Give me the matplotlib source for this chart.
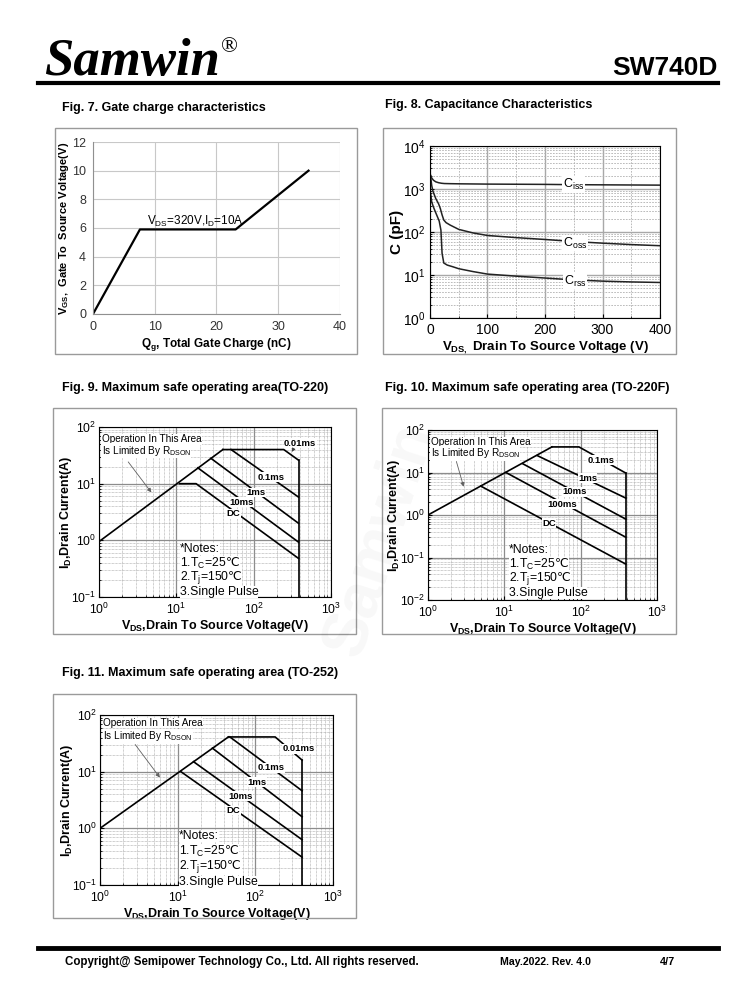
import matplotlib
matplotlib.use("Agg")
import matplotlib.pyplot as plt
from matplotlib.patches import Rectangle
from matplotlib.lines import Line2D
from matplotlib.ticker import LogLocator, MultipleLocator, NullFormatter

plt.rcParams['font.family'] = ['Liberation Sans', 'DejaVu Sans']
plt.rcParams['mathtext.default'] = 'regular'
plt.rcParams['mathtext.fontset'] = 'custom'
plt.rcParams['mathtext.rm'] = 'DejaVu Sans'
plt.rcParams['axes.unicode_minus'] = False

W, H = 738, 1000

# ---- Fig 7: gate charge ----
qg_nc = [0, 7.6, 23.1, 34.9]
vgs_v = [0, 5.9, 5.9, 10.0]

# ---- Fig 8: capacitance ----
ciss_v = [1, 3, 6, 10, 15, 20, 25, 35, 50, 100, 150, 200, 250, 300, 350, 400]
ciss_pf = [2100, 1800, 1600, 1470, 1400, 1360, 1340, 1330, 1320, 1300, 1290, 1280, 1260, 1250, 1240, 1230]
coss_v = [1, 3, 5, 10, 15, 18, 21, 24, 28, 35, 50, 75, 100, 150, 200, 250, 300, 350, 400]
coss_pf = [2000, 1200, 900, 600, 450, 350, 250, 190, 165, 145, 115, 95, 83, 74, 67, 60, 55, 51, 48]
crss_v = [1, 3, 6, 10, 16, 19, 21, 24, 30, 40, 50, 75, 100, 150, 200, 250, 300, 350, 400]
crss_pf = [800, 500, 380, 280, 180, 110, 32, 19, 17, 15.5, 14, 12, 10.5, 9.4, 8.5, 7.7, 7.2, 6.9, 6.7]

# ---- Fig 9: SOA TO-220 ----
to220_rds = ([1, 40], [0.95, 40])
to220_lines = {
    '0.01ms': ([40, 245, 380], [40, 40, 26]),
    '0.1ms': ([51, 380], [40, 5.8]),
    '1ms': ([28, 380], [28, 2.0]),
    '10ms': ([19, 380], [19, 0.93]),
    'DC': ([11, 18, 380], [10, 10, 0.48]),
}
to220_vmax = ([380, 380], [0.1, 26])

# ---- Fig 10: SOA TO-220F ----
to220f_rds = ([1, 42], [1, 40])
to220f_lines = {
    '0.1ms': ([42, 95, 390], [40, 40, 9.7]),
    '1ms': ([27, 390], [25, 2.5]),
    '10ms': ([17.5, 390], [16, 0.8]),
    '100ms': ([10.5, 390], [10, 0.3]),
    'DC': ([4.9, 390], [4.8, 0.07]),
}
to220f_vmax = ([390, 390], [0.01, 9.7])

# ---- Fig 11: SOA TO-252 ----
to252_rds = ([1, 45], [1, 41])
to252_lines = {
    '0.01ms': ([45, 180, 400], [41, 41, 16]),
    '0.1ms': ([47, 400], [41, 4.6]),
    '1ms': ([28, 400], [26, 1.6]),
    '10ms': ([16, 400], [15, 0.63]),
    'DC': ([11, 400], [10, 0.31]),
}
to252_vmax = ([400, 400], [0.1, 16])

notes_text = ['*Notes:', r'1.T$_{C}$=25$\mathrm{℃}$', r'2.T$_{j}$=150$\mathrm{℃}$', '3.Single Pulse']

fig = plt.figure(figsize=(W / 100, H / 100), dpi=100)


def px_ax(l, t, r, b):
    return fig.add_axes([l / W, 1 - b / H, (r - l) / W, (b - t) / H])


def frame(l, t, r, b):
    fig.add_artist(Rectangle((l / W, 1 - b / H), (r - l) / W, (b - t) / H,
                             transform=fig.transFigure, fill=False,
                             ec='#9a9a9a', lw=1))


def ftext(x, y, s, **kw):
    fig.text(x / W, 1 - y / H, s, **kw)


def hline(x0, x1, y, lw):
    fig.add_artist(Line2D([x0 / W, x1 / W], [1 - y / H, 1 - y / H], lw=lw,
                          color='black', transform=fig.transFigure))


# header / footer
ftext(44, 62, 'Samwin', family=['Liberation Serif', 'DejaVu Serif'],
      weight='bold', style='italic', size=38, va='center')
ftext(221, 48, '®', family=['Liberation Serif', 'DejaVu Serif'], size=16, va='center')
ftext(718, 68, 'SW740D', weight='bold', size=19, ha='right', va='center')
hline(38, 718, 83, 3)
hline(38, 718, 948, 3.5)
ftext(65, 962, 'Copyright@ Semipower Technology Co., Ltd. All rights reserved.',
      weight='bold', size=8.3, va='center')
ftext(500, 962, 'May.2022. Rev. 4.0', weight='bold', size=7.6, va='center')
ftext(660, 962, '4/7', weight='bold', size=7.8, va='center')

# titles
ftext(62, 108, 'Fig. 7. Gate charge characteristics', weight='bold', size=9, va='center')
ftext(385, 105, 'Fig. 8. Capacitance Characteristics', weight='bold', size=9, va='center')
ftext(62, 388, 'Fig. 9. Maximum safe operating area(TO-220)', weight='bold', size=9, va='center')
ftext(385, 388, 'Fig. 10. Maximum safe operating area (TO-220F)', weight='bold', size=9, va='center')
ftext(62, 673, 'Fig. 11. Maximum safe operating area (TO-252)', weight='bold', size=9, va='center')

# ---- Fig 7 ----
frame(55, 128, 357, 354)
ax = px_ax(93, 142, 340, 314)
ax.plot(qg_nc, vgs_v, color='black', lw=1.6)
ax.set_xlim(0, 40)
ax.set_ylim(0, 12)
ax.xaxis.set_major_locator(MultipleLocator(10))
ax.yaxis.set_major_locator(MultipleLocator(2))
ax.grid(True, color='#c8c8c8', lw=0.8)
ax.set_axisbelow(True)
for sp in ax.spines.values():
    sp.set_visible(False)
ax.spines['left'].set_visible(True)
ax.spines['bottom'].set_visible(True)
ax.spines['left'].set_color('#909090')
ax.spines['bottom'].set_color('#909090')
ax.tick_params(length=0, labelsize=9, colors='#333333', pad=5)
ax.text(16.5, 6.45, 'V$_{DS}$=320V,I$_{D}$=10A', ha='center', va='center', size=8.5)
ax.set_xlabel('Q$_{g}$, Total Gate Charge (nC)', weight='bold', size=8.5, labelpad=2)
ftext(64, 228, 'V$_{GS}$,  Gate To  Source Voltage(V)', weight='bold', size=8,
      rotation=90, ha='center', va='center')

# ---- Fig 8 ----
frame(383, 128, 676, 354)
ax = px_ax(430, 146, 660, 318)
ax.semilogy(ciss_v, ciss_pf, color='#222222', lw=1.1)
ax.semilogy(coss_v, coss_pf, color='#222222', lw=1.1)
ax.semilogy(crss_v, crss_pf, color='#222222', lw=1.1)
ax.set_xlim(0, 400)
ax.set_ylim(1, 1e4)
ax.xaxis.set_major_locator(MultipleLocator(100))
ax.xaxis.set_minor_locator(MultipleLocator(50))
ax.yaxis.set_major_locator(LogLocator(base=10, numticks=10))
ax.yaxis.set_minor_locator(LogLocator(base=10, subs=range(2, 10), numticks=20))
ax.yaxis.set_minor_formatter(NullFormatter())
ax.grid(True, which='major', color='#a8a8a8', lw=1.0)
ax.grid(True, which='minor', color='#b0b0b0', lw=0.6, ls=(0, (2, 1.5)))
ax.tick_params(which='both', direction='in', labelsize=10, length=3)
ax.tick_params(which='minor', length=1.5)
for lab, vv, cc in [('C$_{iss}$', 250, 1260), ('C$_{oss}$', 252, 55), ('C$_{rss}$', 252, 7.2)]:
    ax.text(vv, cc, lab, ha='center', va='center', size=9,
            bbox=dict(fc='white', ec='none', pad=0.5))
ax.set_xlabel('V$_{DS,}$ Drain To Source Voltage (V)', weight='bold', size=9.5, labelpad=2)
ftext(397, 232, 'C (pF)', weight='bold', size=11, rotation=90, ha='center', va='center')


def soa_axes(l, t, r, b, ylo, ylab_x):
    a = px_ax(l, t, r, b)
    a.set_xscale('log')
    a.set_yscale('log')
    a.set_xlim(1, 1000)
    a.set_ylim(ylo, 100)
    for axis in (a.xaxis, a.yaxis):
        axis.set_major_locator(LogLocator(base=10, numticks=10))
        axis.set_minor_locator(LogLocator(base=10, subs=range(2, 10), numticks=20))
        axis.set_minor_formatter(NullFormatter())
    a.grid(True, which='major', color='#8c8c8c', lw=0.9)
    a.grid(True, which='minor', color='#a0a0a0', lw=0.5, ls=(0, (1, 1)))
    a.tick_params(which='both', direction='in', labelsize=8.8, length=3)
    a.tick_params(axis='y', pad=2)
    a.tick_params(which='minor', length=1.5)
    a.set_xlabel('V$_{DS}$,Drain To Source Voltage(V)', weight='bold', size=9, labelpad=1)
    ftext(ylab_x, (t + b) / 2, 'I$_{D}$,Drain Current(A)', weight='bold', size=9,
          rotation=90, ha='center', va='center')
    return a


def soa_draw(a, rds, lines, vmax, label_pos, op_pos, arrow, notes_pos, note_step):
    a.plot(rds[0], rds[1], color='black', lw=1.2)
    for name, (vv, ii) in lines.items():
        a.plot(vv, ii, color='black', lw=1.2)
    a.plot(vmax[0], vmax[1], color='black', lw=1.2)
    for name, (x, y) in label_pos.items():
        a.text(x, y, name, ha='center', va='center', size=6.8, weight='bold',
               bbox=dict(fc='white', ec='none', pad=0.3))
    a.text(op_pos[0], op_pos[1], 'Operation In This Area', size=7.2, va='center',
           bbox=dict(fc='white', ec='none', pad=0.3))
    a.text(op_pos[0], op_pos[2], 'Is Limited By R$_{DSON}$', size=7.2, va='center',
           bbox=dict(fc='white', ec='none', pad=0.3))
    a.annotate('', xy=arrow[1], xytext=arrow[0],
               arrowprops=dict(arrowstyle='-|>', color='#606060', lw=0.6, mutation_scale=6))
    y = notes_pos[1]
    for s in notes_text:
        a.text(notes_pos[0], y, s, size=8.8, va='center',
               bbox=dict(fc='white', ec='none', pad=0.0))
        y = y * note_step


# ---- Fig 9 ----
frame(53, 408, 356, 634)
ax = soa_axes(99, 427, 331, 597, 0.1, 66)
soa_draw(ax, to220_rds, to220_lines, to220_vmax,
         {'0.01ms': (400, 52), '0.1ms': (167, 13), '1ms': (107, 7.0),
          '10ms': (69, 4.7), 'DC': (55, 2.96)},
         (1.08, 61, 38), ((2.27, 26.5), (5.0, 6.4)), (11, 0.7), 0.56)
ax.annotate('', xy=(300, 33), xytext=(340, 45),
            arrowprops=dict(arrowstyle='-|>', color='#404040', lw=0.6, mutation_scale=5))

# ---- Fig 10 ----
frame(382, 408, 676, 634)
ax = soa_axes(428, 430, 657, 600, 0.01, 394)
soa_draw(ax, to220f_rds, to220f_lines, to220f_vmax,
         {'0.1ms': (183, 19.6), '1ms': (123, 7.4), '10ms': (83, 3.5),
          '100ms': (58, 1.8), 'DC': (38.6, 0.64)},
         (1.08, 52, 28), ((2.3, 21), (3.0, 4.0)), (11.4, 0.15), 0.46)

# ---- Fig 11 ----
frame(53, 694, 356, 918)
ax = soa_axes(100, 715, 333, 885, 0.1, 67)
soa_draw(ax, to252_rds, to252_lines, to252_vmax,
         {'0.01ms': (358, 25.5), '0.1ms': (162, 11.7), '1ms': (104, 6.5),
          '10ms': (65, 3.7), 'DC': (52, 2.06)},
         (1.1, 72, 42), ((2.7, 33), (6.2, 7.2)), (10.5, 0.73), 0.54)

# faint watermark
ftext(380, 540, 'Samwin', size=46, rotation=72, color='black', alpha=0.03,
      weight='bold', ha='center', va='center', zorder=20)

fig.savefig('out.png', dpi=100)
